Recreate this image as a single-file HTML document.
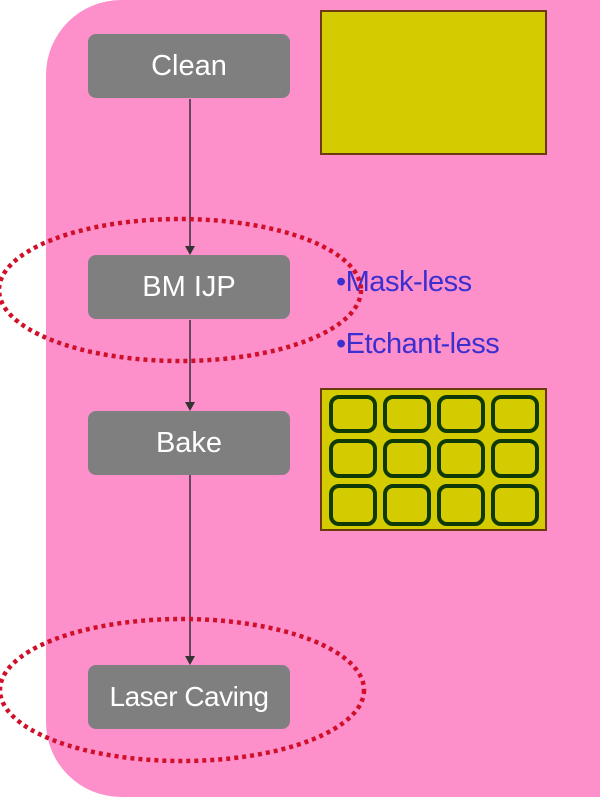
<!DOCTYPE html>
<html><head><style>
html,body{margin:0;padding:0;background:#fff;}
body{width:600px;height:798px;position:relative;overflow:hidden;font-family:"Liberation Sans",sans-serif;}
.bg{position:absolute;left:46px;top:0;width:640px;height:797px;background:#fd8fca;border-radius:75px;}
.box{position:absolute;left:88px;width:202px;height:64px;background:#7f7f7f;border-radius:8px;color:#fff;font-size:29px;display:flex;align-items:center;justify-content:center;}
.t{position:absolute;color:#3b2fd0;font-size:29px;letter-spacing:-0.5px;}
</style></head><body>
<div class="bg"></div>
<svg style="position:absolute;left:0;top:0" width="600" height="798">
<line x1="190" y1="99" x2="190" y2="248" stroke="#6b4560" stroke-width="2"/>
<polygon points="185,246 195,246 190,255" fill="#333"/>
<line x1="190" y1="320" x2="190" y2="404" stroke="#6b4560" stroke-width="2"/>
<polygon points="185,402 195,402 190,411" fill="#333"/>
<line x1="190" y1="475" x2="190" y2="658" stroke="#6b4560" stroke-width="2"/>
<polygon points="185,656 195,656 190,665" fill="#333"/>
<rect x="321" y="11" width="225" height="143" fill="#d4cc00" stroke="#6b3a10" stroke-width="2"/>
<rect x="321" y="389" width="225" height="141" fill="#d4cc00" stroke="#6b3a10" stroke-width="2"/>
<g fill="none" stroke="#0f3a08" stroke-width="4">
<rect x="331" y="397" width="44" height="34" rx="8"/><rect x="385" y="397" width="44" height="34" rx="8"/><rect x="439" y="397" width="44" height="34" rx="8"/><rect x="493" y="397" width="44" height="34" rx="8"/>
<rect x="331" y="441" width="44" height="35" rx="8"/><rect x="385" y="441" width="44" height="35" rx="8"/><rect x="439" y="441" width="44" height="35" rx="8"/><rect x="493" y="441" width="44" height="35" rx="8"/>
<rect x="331" y="486" width="44" height="38" rx="8"/><rect x="385" y="486" width="44" height="38" rx="8"/><rect x="439" y="486" width="44" height="38" rx="8"/><rect x="493" y="486" width="44" height="38" rx="8"/>
</g>
</svg>
<div class="box" style="top:34px">Clean</div>
<div class="box" style="top:255px">BM IJP</div>
<div class="box" style="top:411px">Bake</div>
<div class="box" style="top:665px;font-size:28px;letter-spacing:-0.5px">Laser Caving</div>
<div class="t" style="left:336px;top:266px">•Mask-less</div>
<div class="t" style="left:336px;top:328px">•Etchant-less</div>
<svg style="position:absolute;left:0;top:0" width="600" height="798">
<g fill="none" stroke="#d0102a" stroke-width="4.5" stroke-dasharray="4 4">
<ellipse cx="180" cy="290" rx="181" ry="71"/>
<ellipse cx="182" cy="690" rx="182" ry="71"/>
</g>
</svg>
</body></html>
